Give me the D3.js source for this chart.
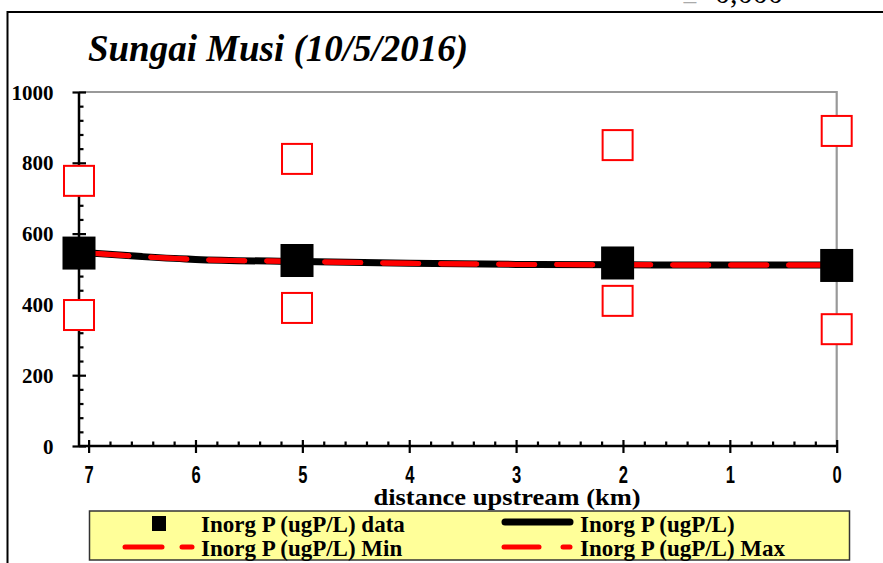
<!DOCTYPE html>
<html><head><meta charset="utf-8">
<script src="https://cdn.jsdelivr.net/npm/d3@7"></script>
<style>body{margin:0;background:#fff}svg{display:block}</style>
</head><body>
<svg id="c" width="883" height="563"></svg>
<script>
// ---- data ----
const stationDist = [7.09, 5.05, 2.05, 0];
const dataVals    = [545, 524, 517, 510];
const obsMin      = [370, 390, 410, 330];
const obsMax      = [749, 811, 850, 890];
const modelDist   = [7.09, 6.5, 6, 5, 4, 3, 2, 1, 0];
const modelVals   = [547, 535, 527, 521, 516, 513, 512, 511, 511];
const modelMin    = [547, 535, 527, 521, 516, 513, 512, 511, 511];
const modelMax    = [547, 535, 527, 521, 516, 513, 512, 511, 511];
const xTicks = [7, 6, 5, 4, 3, 2, 1, 0];
const yTicks = [0, 200, 400, 600, 800, 1000];
const titleText = "Sungai Musi (10/5/2016)";
const xTitle = "distance upstream (km)";
const legendLabels = ["Inorg P (ugP/L) data", "Inorg P (ugP/L)", "Inorg P (ugP/L) Min", "Inorg P (ugP/L) Max"];

const svg = d3.select("#c");
const serif = "'Liberation Serif','Times New Roman',serif";
const sans = "'Liberation Sans',Arial,sans-serif";

// outer frame
svg.append("rect").attr("x",7.5).attr("y",12).attr("width",900).attr("height",600)
  .attr("fill","none").attr("stroke","#000").attr("stroke-width",2);

// clipped top text
svg.append("text").attr("x",682).attr("y",9).attr("font-family",serif).attr("font-size",28)
  .attr("fill","#aaa").text("=");
svg.append("text").attr("x",715).attr("y",3).attr("font-family",serif).attr("font-size",30)
  .attr("fill","#000").attr("textLength",68).attr("lengthAdjust","spacingAndGlyphs").text("0,000");

// title
svg.append("text").attr("x",88).attr("y",61).attr("font-family",serif).attr("font-size",38)
  .attr("font-weight","bold").attr("font-style","italic").attr("textLength",380)
  .attr("lengthAdjust","spacingAndGlyphs").text(titleText);

const x = d3.scaleLinear().domain([7.09,0]).range([79,836.7]);
const y = d3.scaleLinear().domain([0,1000]).range([446,92]);

// plot border (gray top/right)
svg.append("path").attr("d",`M${x(7.09)},${y(1000)}H${x(0)}V${y(0)}`)
  .attr("fill","none").attr("stroke","#999").attr("stroke-width",2.2);

// x axis
const xMinor = d3.range(0,36).map(i=>i*0.2).filter(v=>Math.abs(v-Math.round(v))>1e-6);
const gxm = svg.append("g").attr("transform",`translate(0,${y(0)})`)
  .call(d3.axisTop(x).tickValues(xMinor).tickSize(4.5).tickFormat(""));
const gx = svg.append("g").attr("transform",`translate(0,${y(0)})`)
  .call(d3.axisBottom(x).tickValues(xTicks).tickSize(7).tickPadding(0).tickFormat(d3.format("d")));
[gxm,gx].forEach(g=>{g.select(".domain").remove(); g.selectAll("line").attr("stroke","#000").attr("stroke-width",2.2);});
gx.selectAll(".tick line").attr("y1",-6);
gx.selectAll(".tick text").attr("font-family",sans).attr("font-size",23).attr("font-weight","bold")
  .attr("fill","#000").attr("y",0).attr("dy",0)
  .attr("transform","translate(0,36.5) scale(0.72,1)");
svg.append("line").attr("x1",x(7.09)).attr("x2",x(0)).attr("y1",y(0)).attr("y2",y(0))
  .attr("stroke","#000").attr("stroke-width",2.5);

// y axis
const yMinor = d3.range(0,1001,40).filter(v=>v%200!==0);
const gym = svg.append("g").attr("transform",`translate(${x(7.09)},0)`)
  .call(d3.axisRight(y).tickValues(yMinor).tickSize(4.5).tickFormat(""));
const gy = svg.append("g").attr("transform",`translate(${x(7.09)},0)`)
  .call(d3.axisLeft(y).tickValues(yTicks).tickSize(6.5).tickPadding(19).tickFormat(d3.format("d")));
[gym,gy].forEach(g=>{g.select(".domain").remove(); g.selectAll("line").attr("stroke","#000").attr("stroke-width",2.2);});
gy.selectAll(".tick line").attr("x2",7);
gy.selectAll(".tick line").attr("x1",-6.5);
gy.selectAll(".tick text").attr("font-family",serif).attr("font-size",21).attr("font-weight","bold")
  .attr("fill","#000").attr("dy","0.34em");
svg.append("line").attr("x1",x(7.09)).attr("x2",x(7.09)).attr("y1",y(0)+1).attr("y2",y(1000))
  .attr("stroke","#000").attr("stroke-width",2.5);

// x title
svg.append("text").attr("x",507).attr("y",505).attr("text-anchor","middle").attr("font-family",serif)
  .attr("font-size",23).attr("font-weight","bold").attr("textLength",267)
  .attr("lengthAdjust","spacingAndGlyphs").text(xTitle);

// lines
const line = d3.line().x(d=>x(d[0])).y(d=>y(d[1])).curve(d3.curveMonotoneX);
svg.append("path").attr("d",line(d3.zip(modelDist,modelVals))).attr("fill","none")
  .attr("stroke","#000").attr("stroke-width",7);
[modelMin, modelMax].forEach(vals=>{
  svg.append("path").attr("d",line(d3.zip(modelDist,vals))).attr("fill","none")
    .attr("stroke","#f00").attr("stroke-width",5).attr("stroke-linecap","round")
    .attr("stroke-dasharray","36 22").attr("stroke-dashoffset",-14);
});

// markers
const bs = 33, rs = 30;
svg.append("g").selectAll("rect").data(d3.zip(stationDist,dataVals)).join("rect")
  .attr("x",d=>x(d[0])-bs/2).attr("y",d=>y(d[1])-bs/2).attr("width",bs).attr("height",bs).attr("fill","#000");
svg.append("g").selectAll("rect").data(d3.zip(stationDist,obsMin).concat(d3.zip(stationDist,obsMax))).join("rect")
  .attr("x",d=>x(d[0])-rs/2).attr("y",d=>y(d[1])-rs/2).attr("width",rs).attr("height",rs)
  .attr("fill","#fff").attr("stroke","#f00").attr("stroke-width",2);

// legend
const lg = svg.append("g");
lg.append("rect").attr("x",89.5).attr("y",511).attr("width",760).attr("height",49)
  .attr("fill","#ffff99").attr("stroke","#333").attr("stroke-width",1.5);
const rows = [531.5, 556];
const cols = [201, 580];
legendLabels.forEach((t,i)=>{
  lg.append("text").attr("x",cols[i%2]).attr("y",rows[Math.floor(i/2)]).attr("font-family",serif)
    .attr("font-size",23).attr("font-weight","bold").text(t);
});
lg.append("rect").attr("x",152).attr("y",516).attr("width",14).attr("height",15).attr("fill","#000");
lg.append("line").attr("x1",505).attr("x2",570).attr("y1",522).attr("y2",522)
  .attr("stroke","#000").attr("stroke-width",7).attr("stroke-linecap","round");
[[125,162,182,192],[504,539,563,570]].forEach((s,i)=>{
  const yy = 547;
  lg.append("line").attr("x1",s[0]).attr("x2",s[1]).attr("y1",yy).attr("y2",yy)
    .attr("stroke","#f00").attr("stroke-width",5).attr("stroke-linecap","round");
  lg.append("line").attr("x1",s[2]).attr("x2",s[3]).attr("y1",yy).attr("y2",yy)
    .attr("stroke","#f00").attr("stroke-width",5).attr("stroke-linecap","round");
});
</script>
</body></html>
